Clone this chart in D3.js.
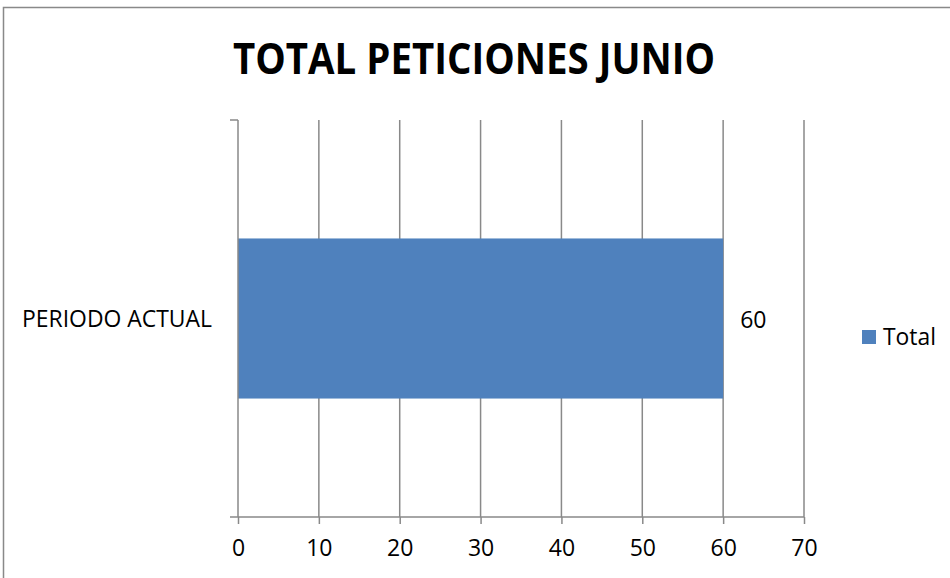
<!DOCTYPE html>
<html>
<head>
<meta charset="utf-8">
<script src="https://cdn.jsdelivr.net/npm/d3@7"></script>
<style>
  html, body { margin: 0; padding: 0; background: #fff; }
  svg { display: block; }
  text { font-family: "Open Sans", "Noto Sans", sans-serif; fill: #000; }
</style>
</head>
<body>
<svg id="chart" width="950" height="578"></svg>
<script>
const title = "TOTAL PETICIONES JUNIO";
const categories = ["PERIODO ACTUAL"];
const seriesName = "Total";
const values = [60];
const xTicks = [0, 10, 20, 30, 40, 50, 60, 70];

const svg = d3.select("#chart");
const W = 950, H = 578;
const m = { left: 238, right: 804, top: 120, bottom: 517 };
const gridColor = "#898989";
const barColor = "#4f81bd";

// outer chart border
svg.append("rect")
  .attr("x", 3.5).attr("y", 7.5)
  .attr("width", W + 10).attr("height", H + 10)
  .attr("fill", "#fff").attr("stroke", "#898989").attr("stroke-width", 1.5);

// title
svg.append("text")
  .attr("x", 474).attr("y", 74)
  .attr("text-anchor", "middle")
  .attr("font-size", 43).attr("font-weight", 700)
  .attr("textLength", 482).attr("lengthAdjust", "spacingAndGlyphs")
  .text(title);

const x = d3.scaleLinear().domain([0, 70]).range([m.left, m.right]);
const y = d3.scaleBand().domain(categories).range([m.top, m.bottom])
  .paddingInner(0).paddingOuter(0.74);

// gridlines
svg.append("g").selectAll("line").data(xTicks.slice(1)).join("line")
  .attr("x1", d => x(d)).attr("x2", d => x(d))
  .attr("y1", m.top).attr("y2", m.bottom)
  .attr("stroke", gridColor).attr("stroke-width", 1.5);

// bars
svg.append("g").selectAll("rect").data(values).join("rect")
  .attr("x", x(0))
  .attr("y", (d, i) => y(categories[i]))
  .attr("width", d => x(d) - x(0))
  .attr("height", y.bandwidth())
  .attr("fill", barColor);

// data labels
svg.append("g").selectAll("text").data(values).join("text")
  .attr("x", d => x(d) + 17)
  .attr("y", (d, i) => y(categories[i]) + y.bandwidth() / 2 + 9)
  .attr("font-size", 23)
  .text(d => d);

// bottom axis
const xAxis = d3.axisBottom(x).tickValues(xTicks).tickSize(7).tickPadding(16).tickSizeOuter(0);
const gx = svg.append("g").attr("transform", `translate(0,${m.bottom})`).call(xAxis);
gx.select(".domain").remove();
gx.append("line").attr("x1", m.left - 8).attr("x2", m.right)
  .attr("y1", 0).attr("y2", 0).attr("stroke", gridColor).attr("stroke-width", 1.5);
gx.selectAll(".tick line").attr("stroke", gridColor).attr("stroke-width", 1.5);
gx.selectAll(".tick text").attr("font-size", 23)
  .attr("font-family", "'Open Sans', 'Noto Sans', sans-serif").attr("fill", "#000");

// left axis
const yAxis = d3.axisLeft(y).tickSize(0).tickPadding(26);
const gy = svg.append("g").attr("transform", `translate(${m.left},0)`).call(yAxis);
gy.select(".domain").remove();
gy.append("line").attr("x1", 0).attr("x2", 0).attr("y1", m.top).attr("y2", m.bottom)
  .attr("stroke", gridColor).attr("stroke-width", 1.5);
gy.append("line").attr("x1", -8).attr("x2", 0).attr("y1", m.top).attr("y2", m.top)
  .attr("stroke", gridColor).attr("stroke-width", 1.5);
gy.selectAll(".tick text").attr("font-size", 23)
  .attr("font-family", "'Open Sans', 'Noto Sans', sans-serif").attr("fill", "#000")
  .attr("dy", "0.36em")
  .attr("textLength", 190).attr("lengthAdjust", "spacingAndGlyphs");

// legend
const lg = svg.append("g").attr("transform", "translate(862,330)");
lg.append("rect").attr("width", 14).attr("height", 14).attr("fill", barColor);
lg.append("text").attr("x", 21).attr("y", 15).attr("font-size", 23)
  .attr("textLength", 53).attr("lengthAdjust", "spacingAndGlyphs").text(seriesName);
</script>
</body>
</html>
